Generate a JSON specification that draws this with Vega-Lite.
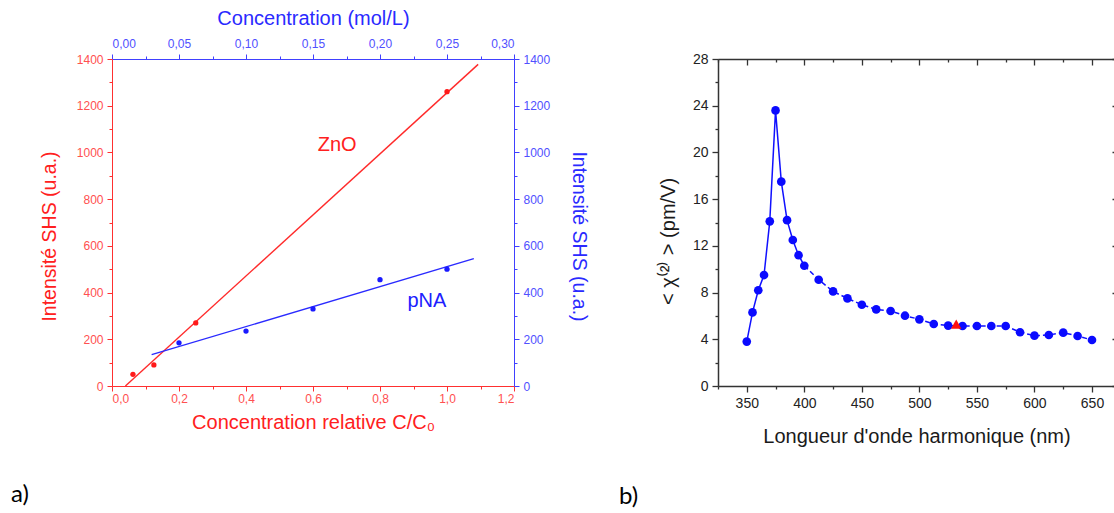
{
  "$schema": "https://vega.github.io/schema/vega-lite/v6.json",
  "background": "white",
  "padding": {"left": 11, "top": 8, "right": 0, "bottom": 0},
  "config": {"view": {"stroke": null}, "axis": {"grid": false}, "concat": {"spacing": 30}},
  "datasets": {
    "zno": [{"c_rel": 0.0625, "intensite": 50}, {"c_rel": 0.125, "intensite": 90}, {"c_rel": 0.25, "intensite": 270}, {"c_rel": 1.0, "intensite": 1260}],
    "zno_fit": [{"c_rel": 0.04, "intensite": 0}, {"c_rel": 1.093, "intensite": 1377}],
    "zno_label": [{"c_rel": 0.672, "intensite": 1031, "label": "ZnO"}],
    "pna": [{"c_mol": 0.05, "intensite": 185}, {"c_mol": 0.10, "intensite": 235}, {"c_mol": 0.15, "intensite": 330}, {"c_mol": 0.20, "intensite": 455}, {"c_mol": 0.25, "intensite": 500}],
    "pna_fit": [{"c_mol": 0.0296, "intensite": 134}, {"c_mol": 0.270, "intensite": 545}],
    "pna_label": [{"c_mol": 0.235, "intensite": 364, "label": "pNA"}],
    "chi": [
      {"wl": 350, "chi": 3.8}, {"wl": 355, "chi": 6.3}, {"wl": 360, "chi": 8.2}, {"wl": 365, "chi": 9.5},
      {"wl": 370, "chi": 14.1}, {"wl": 375, "chi": 23.6}, {"wl": 380, "chi": 17.5}, {"wl": 385, "chi": 14.2},
      {"wl": 390, "chi": 12.5}, {"wl": 395, "chi": 11.2}, {"wl": 400, "chi": 10.3}, {"wl": 412.5, "chi": 9.1},
      {"wl": 425, "chi": 8.1}, {"wl": 437.5, "chi": 7.5}, {"wl": 450, "chi": 6.96}, {"wl": 462.5, "chi": 6.56},
      {"wl": 475, "chi": 6.42}, {"wl": 487.5, "chi": 6.02}, {"wl": 500, "chi": 5.71}, {"wl": 512.5, "chi": 5.31},
      {"wl": 525, "chi": 5.17}, {"wl": 537.5, "chi": 5.14}, {"wl": 550, "chi": 5.14}, {"wl": 562.5, "chi": 5.14},
      {"wl": 575, "chi": 5.14}, {"wl": 587.5, "chi": 4.6}, {"wl": 600, "chi": 4.31}, {"wl": 612.5, "chi": 4.37},
      {"wl": 625, "chi": 4.57}, {"wl": 637.5, "chi": 4.28}, {"wl": 650, "chi": 3.94}
    ],
    "ref": [{"wl": 532, "chi": 5.3}]
  },
  "hconcat": [
    {
      "width": 402,
      "height": 327,
      "title": {"text": "a)", "orient": "bottom", "anchor": "start", "frame": "group", "dx": -101, "offset": 51, "fontSize": 24, "font": "Lato", "fontWeight": "normal", "color": "#000000"},
      "layer": [
        {
          "encoding": {
            "x": {"field": "c_rel", "type": "quantitative", "scale": {"domain": [0, 1.2], "nice": false, "zero": false},
              "axis": {"orient": "bottom", "values": [0, 0.1, 0.2, 0.3, 0.4, 0.5, 0.6, 0.7, 0.8, 0.9, 1.0, 1.1, 1.2],
                "labelExpr": "round(datum.value*10) % 2 === 0 ? replace(format(datum.value, '.1f'), '.', ',') : ''",
                "title": "Concentration relative C/C₀", "titleColor": "#ff2020", "titleFont": "Liberation Sans", "titleFontSize": 20, "titleFontWeight": "normal", "titlePadding": 8,
                "domainColor": "#ff3030", "tickColor": "#ff3030", "labelColor": "#ff5050", "labelFont": "Liberation Sans", "labelFontSize": 12, "labelPadding": 2,
                "tickSize": {"condition": {"test": "round(datum.value*10) % 2 === 0", "value": 5}, "value": 3}, "labelOverlap": false}},
            "y": {"field": "intensite", "type": "quantitative", "scale": {"domain": [0, 1400], "nice": false},
              "axis": {"orient": "left", "values": [0, 100, 200, 300, 400, 500, 600, 700, 800, 900, 1000, 1100, 1200, 1300, 1400],
                "labelExpr": "datum.value % 200 === 0 ? '' + datum.value : ''",
                "title": "Intensité SHS (u.a.)", "titleColor": "#ff2020", "titleFont": "Liberation Sans", "titleFontSize": 19.5, "titleFontWeight": "normal", "titlePadding": 17, "titleY": 177,
                "domainColor": "#ff3030", "tickColor": "#ff3030", "labelColor": "#ff5050", "labelFont": "Liberation Sans", "labelFontSize": 12, "labelPadding": 4,
                "tickSize": {"condition": {"test": "datum.value % 200 === 0", "value": 5}, "value": 3}, "labelOverlap": false}}
          },
          "layer": [
            {"data": {"name": "zno_fit"}, "mark": {"type": "line", "color": "#ff2a2a", "strokeWidth": 1.4}},
            {"data": {"name": "zno"}, "mark": {"type": "circle", "color": "#ff1a1a", "size": 28, "opacity": 1}},
            {"data": {"name": "zno_label"}, "mark": {"type": "text", "color": "#ff2020", "font": "Liberation Sans", "fontSize": 20}, "encoding": {"text": {"field": "label"}}}
          ]
        },
        {
          "encoding": {
            "x": {"field": "c_mol", "type": "quantitative", "scale": {"domain": [0, 0.3], "nice": false, "zero": false},
              "axis": {"orient": "top", "values": [0, 0.025, 0.05, 0.075, 0.1, 0.125, 0.15, 0.175, 0.2, 0.225, 0.25, 0.275, 0.3],
                "labelExpr": "round(datum.value*40) % 2 === 0 ? replace(format(datum.value, '.2f'), '.', ',') : ''",
                "title": "Concentration (mol/L)", "titleColor": "#2a2aff", "titleFont": "Liberation Sans", "titleFontSize": 20, "titleFontWeight": "normal", "titlePadding": 9,
                "domainColor": "#4040ff", "tickColor": "#4040ff", "labelColor": "#5050ff", "labelFont": "Liberation Sans", "labelFontSize": 12, "labelPadding": 4,
                "tickSize": {"condition": {"test": "round(datum.value*40) % 2 === 0", "value": 5}, "value": 3}, "labelOverlap": false}},
            "y": {"field": "intensite", "type": "quantitative", "scale": {"domain": [0, 1400], "nice": false},
              "axis": {"orient": "right", "values": [0, 100, 200, 300, 400, 500, 600, 700, 800, 900, 1000, 1100, 1200, 1300, 1400],
                "labelExpr": "datum.value % 200 === 0 ? '' + datum.value : ''",
                "title": "Intensité SHS (u.a.)", "titleColor": "#2a2aff", "titleFont": "Liberation Sans", "titleFontSize": 19.5, "titleFontWeight": "normal", "titlePadding": 19, "titleY": 177,
                "domainColor": "#4040ff", "tickColor": "#4040ff", "labelColor": "#5050ff", "labelFont": "Liberation Sans", "labelFontSize": 12, "labelPadding": 4,
                "tickSize": {"condition": {"test": "datum.value % 200 === 0", "value": 5}, "value": 3}, "labelOverlap": false}}
          },
          "layer": [
            {"data": {"name": "pna_fit"}, "mark": {"type": "line", "color": "#2a2aff", "strokeWidth": 1.4}},
            {"data": {"name": "pna"}, "mark": {"type": "circle", "color": "#1a1aff", "size": 28, "opacity": 1}},
            {"data": {"name": "pna_label"}, "mark": {"type": "text", "color": "#2020ff", "font": "Liberation Sans", "fontSize": 20}, "encoding": {"text": {"field": "label"}}}
          ]
        }
      ],
      "resolve": {"scale": {"x": "independent", "y": "independent"}, "axis": {"x": "independent", "y": "independent"}}
    },
    {
      "width": 397,
      "height": 327,
      "title": {"text": "b)", "orient": "bottom", "anchor": "start", "frame": "group", "dx": -99, "offset": 39, "fontSize": 24, "font": "Lato", "fontWeight": "normal", "color": "#000000"},
      "layer": [
        {
          "encoding": {
            "x": {"field": "wl", "type": "quantitative", "scale": {"domain": [325, 670], "nice": false, "zero": false},
              "axis": {"orient": "bottom", "values": [325, 350, 375, 400, 425, 450, 475, 500, 525, 550, 575, 600, 625, 650],
                "labelExpr": "datum.value % 50 === 0 ? datum.label : ''",
                "title": "Longueur d'onde harmonique (nm)", "titleColor": "#1a1a1a", "titleFont": "Liberation Sans", "titleFontSize": 20, "titleFontWeight": "normal", "titlePadding": 16,
                "domainColor": "#333333", "domainWidth": 1.5, "tickColor": "#333333", "tickWidth": 1.3, "labelColor": "#222222", "labelFont": "Liberation Sans", "labelFontSize": 14, "labelPadding": 4,
                "tickSize": {"condition": {"test": "datum.value % 50 === 0", "value": 6}, "value": 3}, "labelOverlap": false}},
            "y": {"field": "chi", "type": "quantitative", "scale": {"domain": [0, 28], "nice": false},
              "axis": {"orient": "left", "values": [0, 2, 4, 6, 8, 10, 12, 14, 16, 18, 20, 22, 24, 26, 28],
                "labelExpr": "datum.value % 4 === 0 ? datum.label : ''",
                "title": "< χ⁽²⁾ > (pm/V)", "titleColor": "#1a1a1a", "titleFont": "Liberation Sans", "titleFontSize": 20, "titleFontWeight": "normal", "titlePadding": 14, "titleY": 182,
                "domainColor": "#333333", "domainWidth": 1.5, "tickColor": "#333333", "tickWidth": 1.3, "labelColor": "#222222", "labelFont": "Liberation Sans", "labelFontSize": 14, "labelPadding": 4,
                "tickSize": {"condition": {"test": "datum.value % 4 === 0", "value": 6}, "value": 3}, "labelOverlap": false}}
          },
          "layer": [
            {"data": {"name": "chi"}, "transform": [{"filter": "datum.wl <= 400"}], "mark": {"type": "line", "color": "#1010ff", "strokeWidth": 1.5}},
            {"data": {"name": "chi"}, "transform": [{"filter": "datum.wl >= 400"}], "mark": {"type": "line", "color": "#1010ff", "strokeWidth": 1.5, "strokeDash": [5, 3]}},
            {"data": {"name": "chi"}, "mark": {"type": "circle", "color": "#0a0aff", "size": 75, "opacity": 1}},
            {"data": {"name": "ref"}, "mark": {"type": "point", "shape": "triangle-up", "filled": true, "color": "#ff1010", "size": 110, "opacity": 1}}
          ]
        },
        {
          "data": {"name": "chi"},
          "mark": {"type": "point", "opacity": 0},
          "encoding": {
            "x": {"field": "wl", "type": "quantitative", "scale": {"domain": [325, 670], "nice": false, "zero": false},
              "axis": {"orient": "top", "values": [325, 350, 375, 400, 425, 450, 475, 500, 525, 550, 575, 600, 625, 650], "labels": false, "title": null,
                "domainColor": "#333333", "domainWidth": 1.5, "tickColor": "#333333", "tickWidth": 1.3,
                "tickSize": {"condition": {"test": "datum.value % 50 === 0", "value": -6}, "value": -3}}},
            "y": {"field": "chi", "type": "quantitative", "scale": {"domain": [0, 28], "nice": false},
              "axis": {"orient": "right", "values": [0, 4, 8, 12, 16, 20, 24, 28], "labels": false, "title": null,
                "domainColor": "#333333", "domainWidth": 1.5, "tickColor": "#333333", "tickWidth": 1.3, "tickSize": -3}}
          }
        }
      ],
      "resolve": {"scale": {"x": "independent", "y": "independent"}, "axis": {"x": "independent", "y": "independent"}}
    }
  ]
}
